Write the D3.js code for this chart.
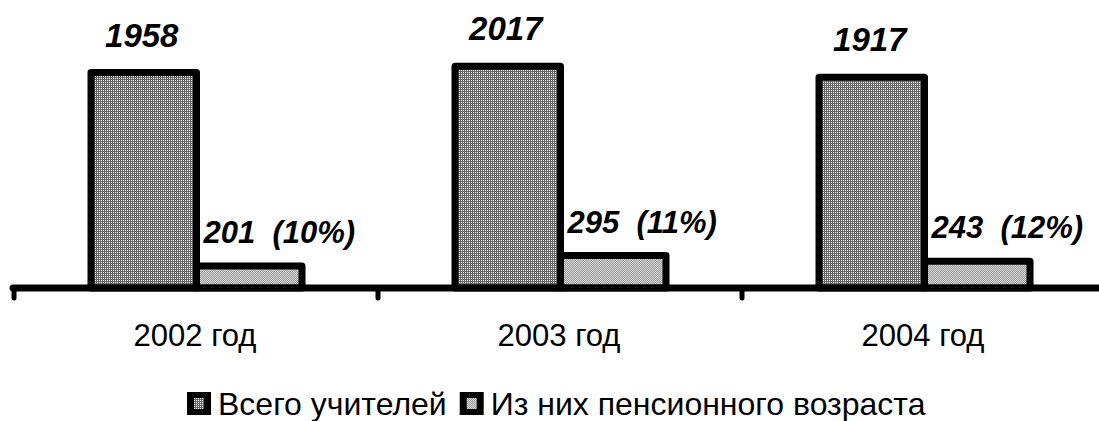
<!DOCTYPE html>
<html>
<head>
<meta charset="utf-8">
<script src="https://cdn.jsdelivr.net/npm/d3@7"></script>
<style>
  html, body { margin: 0; padding: 0; background: #fff; }
  svg { display: block; font-family: "Liberation Sans", Arial, sans-serif; }
</style>
</head>
<body>
<svg id="chart" width="1099" height="421"></svg>
<script>
// Teachers: total and of pension age, by year
const years = ["2002 год", "2003 год", "2004 год"];
const seriesNames = ["Всего учителей", "Из них пенсионного возраста"];
const totalTeachers = [1958, 2017, 1917];
const pensionAge = [201, 295, 243];
const pensionShare = ["10%", "11%", "12%"];

const svg = d3.select("#chart");
const defs = svg.append("defs");

// Dense grid fill for the totals
const p1 = defs.append("pattern").attr("id", "fillTotal")
  .attr("patternUnits", "userSpaceOnUse").attr("width", 2).attr("height", 2);
p1.append("rect").attr("width", 2).attr("height", 2).attr("fill", "#666");
p1.append("rect").attr("width", 1).attr("height", 1).attr("fill", "#fff");

// Light dithered fill for the pension-age share
const p2 = defs.append("pattern").attr("id", "fillPension")
  .attr("patternUnits", "userSpaceOnUse").attr("width", 2).attr("height", 2);
p2.append("rect").attr("width", 2).attr("height", 2).attr("fill", "#d6d6d6");
p2.append("rect").attr("width", 1).attr("height", 1).attr("fill", "#9a9a9a");
p2.append("rect").attr("x", 1).attr("y", 1).attr("width", 1).attr("height", 1).attr("fill", "#9a9a9a");

const fills = ["url(#fillTotal)", "url(#fillPension)"];

const baseY = 288;
const x0 = d3.scaleBand().domain(years).range([13, 1105]);
const x1 = d3.scaleBand().domain(seriesNames).range([78, 289]);
const y = d3.scaleLinear().domain([0, 2500]).range([baseY, 13]);

const rows = years.map((yr, i) => ({
  year: yr,
  values: [
    { s: seriesNames[0], v: totalTeachers[i], label: String(totalTeachers[i]) },
    { s: seriesNames[1], v: pensionAge[i], label: pensionAge[i] + "  (" + pensionShare[i] + ")" }
  ]
}));

const groups = svg.selectAll("g.year").data(rows).join("g")
  .attr("class", "year")
  .attr("transform", d => `translate(${x0(d.year)},0)`);

groups.selectAll("rect.bar").data(d => d.values).join("rect")
  .attr("class", "bar")
  .attr("x", d => x1(d.s))
  .attr("y", d => y(d.v))
  .attr("width", x1.bandwidth())
  .attr("height", d => baseY - y(d.v))
  .attr("fill", (d, i) => fills[i])
  .attr("stroke", "#000")
  .attr("stroke-width", 7)
  .attr("stroke-linejoin", "round");

// Value labels
groups.append("text")
  .attr("x", d => x1(seriesNames[0]) + x1.bandwidth() / 2 - 2)
  .attr("y", d => y(d.values[0].v) - 26)
  .attr("text-anchor", "middle")
  .attr("font-size", 33).attr("font-weight", "bold").attr("font-style", "italic")
  .text(d => d.values[0].label);

groups.append("text")
  .attr("x", d => x1(seriesNames[1]) + 7)
  .attr("y", d => y(d.values[1].v) - 23)
  .attr("font-size", 31).attr("font-weight", "bold").attr("font-style", "italic")
  .style("white-space", "pre")
  .text(d => d.values[1].label);

// Category axis with ticks between groups
const axisG = svg.append("g");
axisG.append("line")
  .attr("x1", 13).attr("x2", 1110).attr("y1", baseY).attr("y2", baseY)
  .attr("stroke", "#000").attr("stroke-width", 7).attr("stroke-linecap", "round");
axisG.selectAll("line.tick").data(years).join("line")
  .attr("class", "tick")
  .attr("x1", d => x0(d) + 1).attr("x2", d => x0(d) + 1)
  .attr("y1", baseY).attr("y2", 298)
  .attr("stroke", "#000").attr("stroke-width", 5).attr("stroke-linecap", "round");
axisG.selectAll("text").data(years).join("text")
  .attr("x", d => x0(d) + x0.bandwidth() / 2)
  .attr("y", 346)
  .attr("text-anchor", "middle")
  .attr("font-size", 31)
  .text(d => d);

// Legend
const legend = svg.append("g");
let lx = 187;
seriesNames.forEach((name, i) => {
  legend.append("rect").attr("x", lx).attr("y", 392).attr("width", 24).attr("height", 23).attr("fill", "#000");
  legend.append("rect").attr("x", lx + 7).attr("y", 398).attr("width", 10).attr("height", 11).attr("fill", fills[i]);
  const t = legend.append("text").attr("x", lx + 31).attr("y", 415).attr("font-size", 32).text(name);
  lx += 31 + t.node().getComputedTextLength() + 13;
});
</script>
</body>
</html>
